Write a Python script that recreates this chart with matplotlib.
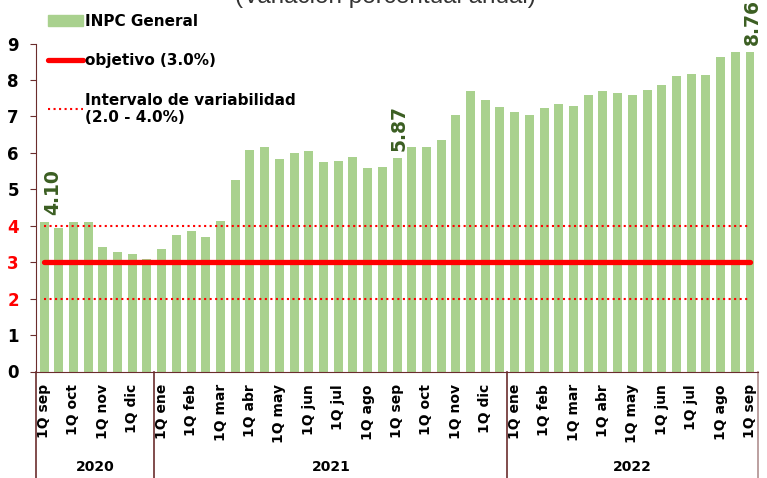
import numpy as np
import matplotlib
matplotlib.use("Agg")
import matplotlib.pyplot as plt
from matplotlib.lines import Line2D
from matplotlib.patches import Patch
import matplotlib.transforms as mtransforms

# ==========================================
# datos: INPC general, variación anual por quincena (sep-2020 a 1Q sep-2022)
# ==========================================
meses_2020 = ['sep', 'oct', 'nov', 'dic']
meses_2021 = ['ene', 'feb', 'mar', 'abr', 'may', 'jun', 'jul', 'ago', 'sep', 'oct', 'nov', 'dic']
meses_2022 = ['ene', 'feb', 'mar', 'abr', 'may', 'jun', 'jul', 'ago', 'sep']

inpc_2020 = [4.10, 3.95, 4.09, 4.09, 3.43, 3.27, 3.23, 3.09]
inpc_2021 = [3.36, 3.75, 3.87, 3.68, 4.13, 5.25, 6.07, 6.15, 5.82, 5.99, 6.04, 5.75,
             5.77, 5.88, 5.58, 5.61, 5.87, 6.15, 6.15, 6.36, 7.04, 7.71, 7.45, 7.26]
inpc_2022 = [7.12, 7.03, 7.22, 7.35, 7.29, 7.60, 7.71, 7.65, 7.58, 7.72, 7.87, 8.10,
             8.16, 8.13, 8.62, 8.77, 8.76]

objetivo = 3.0
intervalo = (2.0, 4.0)
anios = ['2020', '2021', '2022']
etiquetas = {0: '4.10', 24: '5.87', 48: '8.76'}

# etiquetas de quincena (1Q y 2Q por mes; solo se muestran las 1Q)
cats = []
for m in meses_2020 + meses_2021:
    cats += ['1Q ' + m, '2Q ' + m]
for m in meses_2022[:-1]:
    cats += ['1Q ' + m, '2Q ' + m]
cats.append('1Q ' + meses_2022[-1])
valores = inpc_2020 + inpc_2021 + inpc_2022
x = np.arange(len(valores))

# ==========================================
# figura
# ==========================================
plt.rcParams['font.family'] = ['DejaVu Sans']
W, H = 767, 478
fig = plt.figure(figsize=(W / 100, H / 100), dpi=100)
ax_left, ax_right, ax_top, ax_bot = 35.5, 757.5, 43.6, 371.5
ax = fig.add_axes([ax_left / W, 1 - ax_bot / H, (ax_right - ax_left) / W, (ax_bot - ax_top) / H])

verde = '#a9d18e'
granate = '#6b2d2d'

ax.bar(x, valores, width=0.61, color=verde, zorder=2, label='INPC General')
ax.plot(x, [objetivo] * len(x), color='red', lw=3.8, solid_capstyle='round', zorder=3,
        label='objetivo (3.0%)')
ax.plot(x, [intervalo[1]] * len(x), color='red', lw=1.5, ls=':', zorder=3,
        label='Intervalo de variabilidad\n(2.0 - 4.0%)')
ax.plot(x, [intervalo[0]] * len(x), color='red', lw=1.5, ls=':', zorder=3)

ax.set_xlim(-0.58, len(x) - 1 + 0.51)
ax.set_ylim(0, 9)

for i, txt in etiquetas.items():
    dx = 0.6 if i == 0 else 0.15
    ax.annotate(txt, (x[i] + dx, valores[i]), xytext=(0, 5), textcoords='offset points',
                rotation=90, ha='center', va='bottom', fontsize=13.5, fontweight='bold',
                color='#3b5e22', zorder=4)

# ejes
for s in ['top', 'right']:
    ax.spines[s].set_visible(False)
ax.spines['left'].set_color(granate)
ax.spines['bottom'].set_color(granate)

ax.set_yticks(range(0, 10))
ax.tick_params(axis='y', length=4, color=granate, pad=8, labelsize=12)
for lab in ax.get_yticklabels():
    lab.set_fontweight('bold')
    lab.set_color('red' if lab.get_text() in ('2', '3', '4') else 'black')

pos_1q = [i for i, c in enumerate(cats) if c.startswith('1Q')]
ax.set_xticks(pos_1q)
ax.set_xticklabels([cats[i] for i in pos_1q], rotation=90, fontsize=10, fontweight='bold')
ax.tick_params(axis='x', length=0, pad=9)

# separadores de año bajo el eje
trans = mtransforms.blended_transform_factory(ax.transData, ax.transAxes)
fondo = -(H - ax_bot) / (ax_bot - ax_top)
limites = [-0.58, 7.5, 31.5, len(x) - 1 + 0.51]
for k, xb in enumerate(limites):
    col = '#b09090' if k == len(limites) - 1 else granate
    ax.plot([xb, xb], [0, fondo], transform=trans, color=col, lw=1.2, clip_on=False)
for k, a in enumerate(anios):
    xc = (limites[k] + limites[k + 1]) / 2 if k > 0 else 3.5
    ax.text(xc, -(467 - ax_bot) / (ax_bot - ax_top), a, transform=trans, ha='center',
            va='center', fontsize=10, fontweight='bold')

# leyenda
handles = [Patch(color=verde),
           Line2D([], [], color='red', lw=3.8, solid_capstyle='round'),
           Line2D([], [], color='red', lw=1.5, ls=':')]
labels = ['INPC General', 'objetivo (3.0%)', 'Intervalo de variabilidad\n(2.0 - 4.0%)']
leg = fig.legend(handles, labels, loc='upper left', bbox_to_anchor=(40 / W, 1 - 6 / H),
                 frameon=False, prop={'weight': 'bold', 'size': 11}, handlelength=2.3,
                 handletextpad=0.15, labelspacing=1.6, borderpad=0)

# título recortado por el borde superior, como en la imagen original
fig.text(385 / W, 1 - 3.5 / H, '(Variación porcentual anual)', ha='center', va='baseline',
         fontsize=17.5, family='Liberation Sans', color='#333333')

fig.savefig('out.png', dpi=100)
